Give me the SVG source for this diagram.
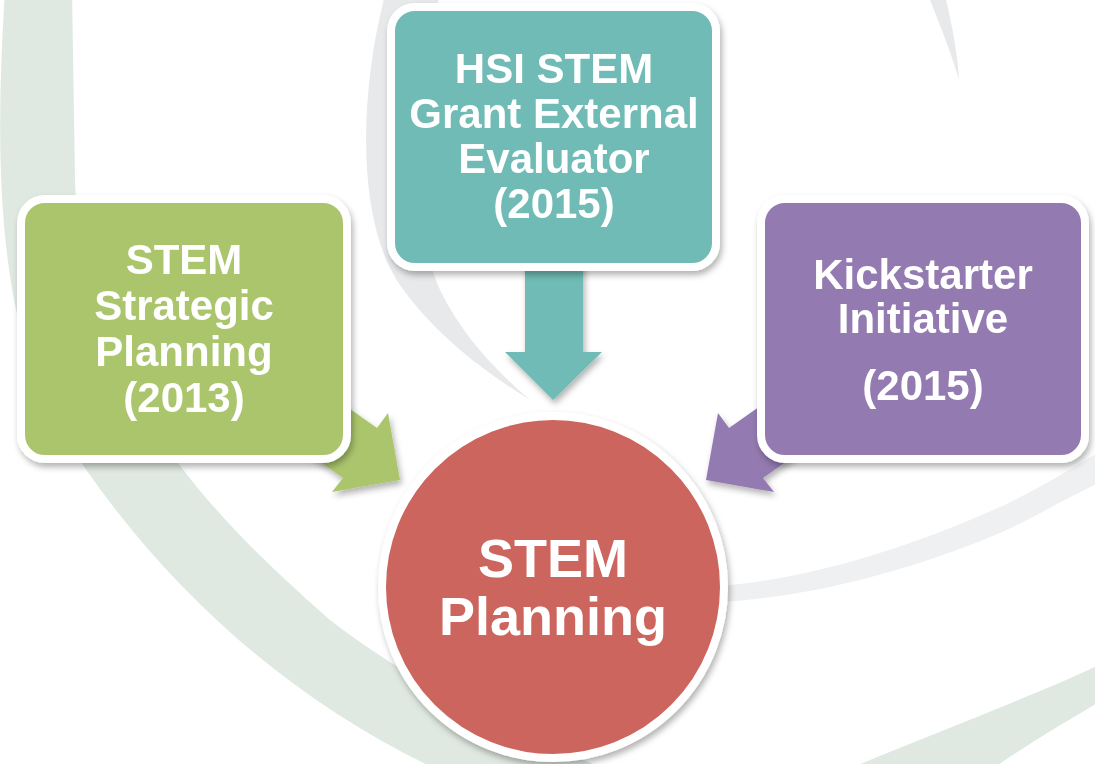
<svg xmlns="http://www.w3.org/2000/svg" width="1095" height="764" viewBox="0 0 1095 764">
  <defs>
    <filter id="shadow" x="-20%" y="-20%" width="140%" height="140%">
      <feDropShadow dx="2" dy="4" stdDeviation="3" flood-color="#000" flood-opacity="0.3"/>
    </filter>
    <style>
      .lbl { font-family: "Liberation Sans", Arial, sans-serif; font-weight: bold; fill: #ffffff; text-anchor: middle; }
      .box { stroke: #ffffff; stroke-width: 8; }
      .sw-green { fill: #dfe9e1; }
      .sw-gray { fill: #e8e9eb; }
      .sw-gray2 { fill: #eff0f2; }
    </style>
  </defs>
  <rect width="1095" height="764" fill="#ffffff"/>

  <!-- background swirl -->
  <g id="background">
    <path class="sw-green" d="M 5,-10 C -5,150 -5,320 60,430 C 160,590 300,710 460,780 L 600,820 L 950,800 C 1000,760 1060,725 1120,690 L 1120,655 C 1040,695 900,745 800,790 L 700,800 C 560,760 420,690 330,620 C 240,540 80,400 75,180 L 72,-10 Z"/>
    <path class="sw-gray" d="M 385,-5 C 360,90 355,220 400,285 C 435,335 485,372 530,400 C 495,370 462,335 440,290 C 410,220 405,120 440,-5 Z"/>
    <path class="sw-gray2" d="M 720,586 C 800,580 900,552 1000,507 C 1040,488 1070,470 1110,445 L 1110,478 C 1070,495 1040,515 1000,533 C 900,575 800,598 720,602 Z"/>
    <path class="sw-gray" d="M 928,-5 C 940,25 952,55 959,80 C 958,55 952,25 945,-5 Z"/>
  </g>

  <!-- connectors -->
  <g id="connectors" filter="url(#shadow)">
    <polygon fill="#abc56d" points="400,480 388,413 377,428 279,359 245,409 343,478 332,492"/>
    <polygon fill="#6fbbb5" points="525,250 583,250 583,352 602,352 553,400 505,352 525,352"/>
    <polygon fill="#937ab0" points="706,480 718,413 729,428 827,359 861,409 763,478 774,492"/>
  </g>

  <g id="node-strategic" filter="url(#shadow)">
    <rect class="box" x="21" y="199" width="326" height="260" rx="24" fill="#abc56d"/>
    <text class="lbl" font-size="42"><tspan x="184" y="274">STEM</tspan><tspan x="184" y="320">Strategic</tspan><tspan x="184" y="366">Planning</tspan><tspan x="184" y="412">(2013)</tspan></text>
  </g>

  <g id="node-hsi" filter="url(#shadow)">
    <rect class="box" x="391" y="7" width="325" height="260" rx="24" fill="#6fbbb5"/>
    <text class="lbl" font-size="42"><tspan x="554" y="83">HSI STEM</tspan><tspan x="554" y="128">Grant External</tspan><tspan x="554" y="173">Evaluator</tspan><tspan x="554" y="218">(2015)</tspan></text>
  </g>

  <g id="node-kickstarter" filter="url(#shadow)">
    <rect class="box" x="761" y="199" width="324" height="260" rx="24" fill="#937ab0"/>
    <text class="lbl" font-size="42"><tspan x="923" y="289">Kickstarter</tspan><tspan x="923" y="333">Initiative</tspan><tspan x="923" y="400">(2015)</tspan></text>
  </g>

  <g id="node-center" filter="url(#shadow)">
    <circle class="box" cx="553" cy="587" r="171" fill="#cd655e"/>
    <text class="lbl" font-size="54"><tspan x="553" y="577">STEM</tspan><tspan x="553" y="635">Planning</tspan></text>
  </g>
</svg>
